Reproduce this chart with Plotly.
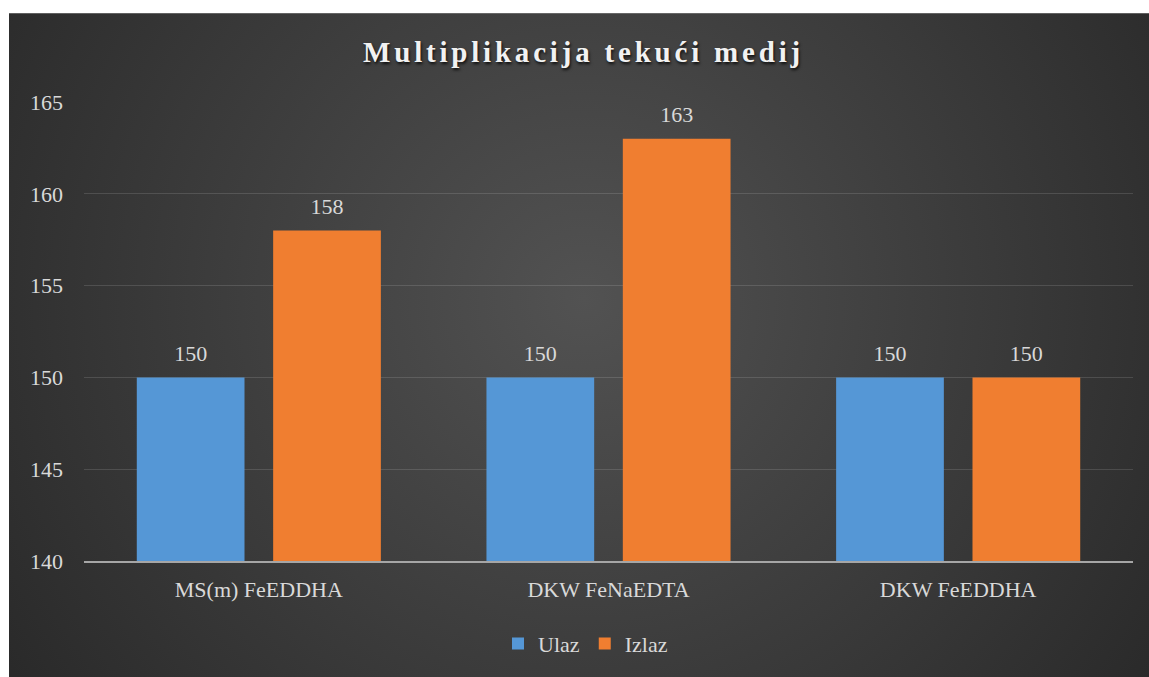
import base64
import plotly.graph_objects as go

categories = ["MS(m) FeEDDHA", "DKW FeNaEDTA", "DKW FeEDDHA"]
ulaz = [150, 150, 150]
izlaz = [158, 163, 150]
series_names = ["Ulaz", "Izlaz"]
y_ticks = [140, 145, 150, 155, 160, 165]

W, H = 1149, 677
ML, MT, MR, MB = 84, 102, 16, 109
pw, ph = W - ML - MR, H - MT - MB

EDGE = "#282828"
BX0, BY0, BW, BH = 9, 12, 1180, 705
svg = (
    f"<svg xmlns='http://www.w3.org/2000/svg' width='{BW}' height='{BH}' viewBox='0 0 {BW} {BH}' preserveAspectRatio='none'>"
    "<defs><radialGradient id='g' gradientUnits='userSpaceOnUse' cx='575' cy='290' r='720'>"
    "<stop offset='0' stop-color='#525252'/>"
    f"<stop offset='1' stop-color='{EDGE}'/>"
    "</radialGradient></defs>"
    f"<rect width='{BW}' height='{BH}' fill='url(#g)'/></svg>"
)
bg_src = "data:image/svg+xml;base64," + base64.b64encode(svg.encode()).decode()

FONT = "Liberation Serif"
TXT = "#d9d9d9"
COLORS = ["#5597d6", "#f07e30"]

fig = go.Figure()
for name, vals, col in zip(series_names, [ulaz, izlaz], COLORS):
    fig.add_trace(go.Bar(
        name=name, x=categories, y=vals, offsetgroup=name,
        marker=dict(color=col, line=dict(width=0)),
    ))
for name, vals in zip(series_names, [ulaz, izlaz]):
    fig.add_trace(go.Scatter(
        x=categories, y=vals, offsetgroup=name, mode="markers+text",
        marker=dict(size=16, opacity=0), text=[str(v) for v in vals],
        textposition="top center", cliponaxis=False, showlegend=False,
        textfont=dict(family=FONT, size=22, color=TXT), hoverinfo="skip",
    ))

# white page margin on the top and left of the dark chart panel
white_strips = [
    dict(type="rect", xref="paper", yref="paper", layer="above",
         x0=-ML / pw, x1=(BX0 - ML) / pw, y0=-MB / ph - 0.1, y1=(H - MB) / ph + 0.1,
         fillcolor="white", line=dict(width=0)),
    dict(type="rect", xref="paper", yref="paper", layer="above",
         x0=-ML / pw, x1=(W - ML) / pw + 0.1, y0=(H - MB - BY0) / ph, y1=(H - MB) / ph + 0.1,
         fillcolor="white", line=dict(width=0)),
]

fig.update_layout(
    width=W, height=H,
    margin=dict(l=ML, r=MR, t=MT, b=MB, pad=0),
    paper_bgcolor=EDGE,
    plot_bgcolor="rgba(0,0,0,0)",
    barmode="group", bargap=0.22, bargroupgap=0.21,
    scattermode="group", scattergap=0.22,
    title=dict(
        text="<b><span style='letter-spacing:3.8px'>Multiplikacija tekući medij</span></b>",
        x=583.5 / W, xanchor="center", xref="container",
        y=1 - 52 / H, yanchor="middle", yref="container",
        font=dict(family=FONT, size=29, color="#f2f2f2",
                  shadow="1px 2px 3px rgba(0,0,0,0.8)"),
    ),
    xaxis=dict(
        showgrid=False, showline=True, linecolor="#a6a6a6", linewidth=2,
        ticks="", tickfont=dict(family=FONT, size=22, color=TXT),
        ticklabelstandoff=8, fixedrange=True,
    ),
    yaxis=dict(
        range=[140, 165], tickvals=y_ticks, showgrid=True,
        gridcolor="rgba(255,255,255,0.13)", gridwidth=1,
        zeroline=False, showline=False, ticks="",
        ticklabelstandoff=20, fixedrange=True,
        tickfont=dict(family=FONT, size=22, color=TXT),
    ),
    legend=dict(
        orientation="h", x=0.5 - 23 / pw, xanchor="center",
        y=-(652 - 568) / ph,
        yanchor="middle",
        font=dict(family=FONT, size=22, color=TXT),
        bgcolor="rgba(0,0,0,0)", itemwidth=30,
    ),
    images=[dict(
        source=bg_src, xref="paper", yref="paper",
        x=(BX0 - ML) / pw, y=(H - MB - BY0) / ph,
        sizex=BW / pw, sizey=BH / ph,
        xanchor="left", yanchor="top", sizing="stretch", layer="below",
    )],
    shapes=white_strips,
    showlegend=True,
)

fig.write_html(
    "out.html",
    config={"displayModeBar": False},
    post_script=(
        "document.body.style.margin='0';document.body.style.overflow='hidden';"
        f"document.body.style.background='{EDGE}';"
        f"document.documentElement.style.background='{EDGE}';"
    ),
)
